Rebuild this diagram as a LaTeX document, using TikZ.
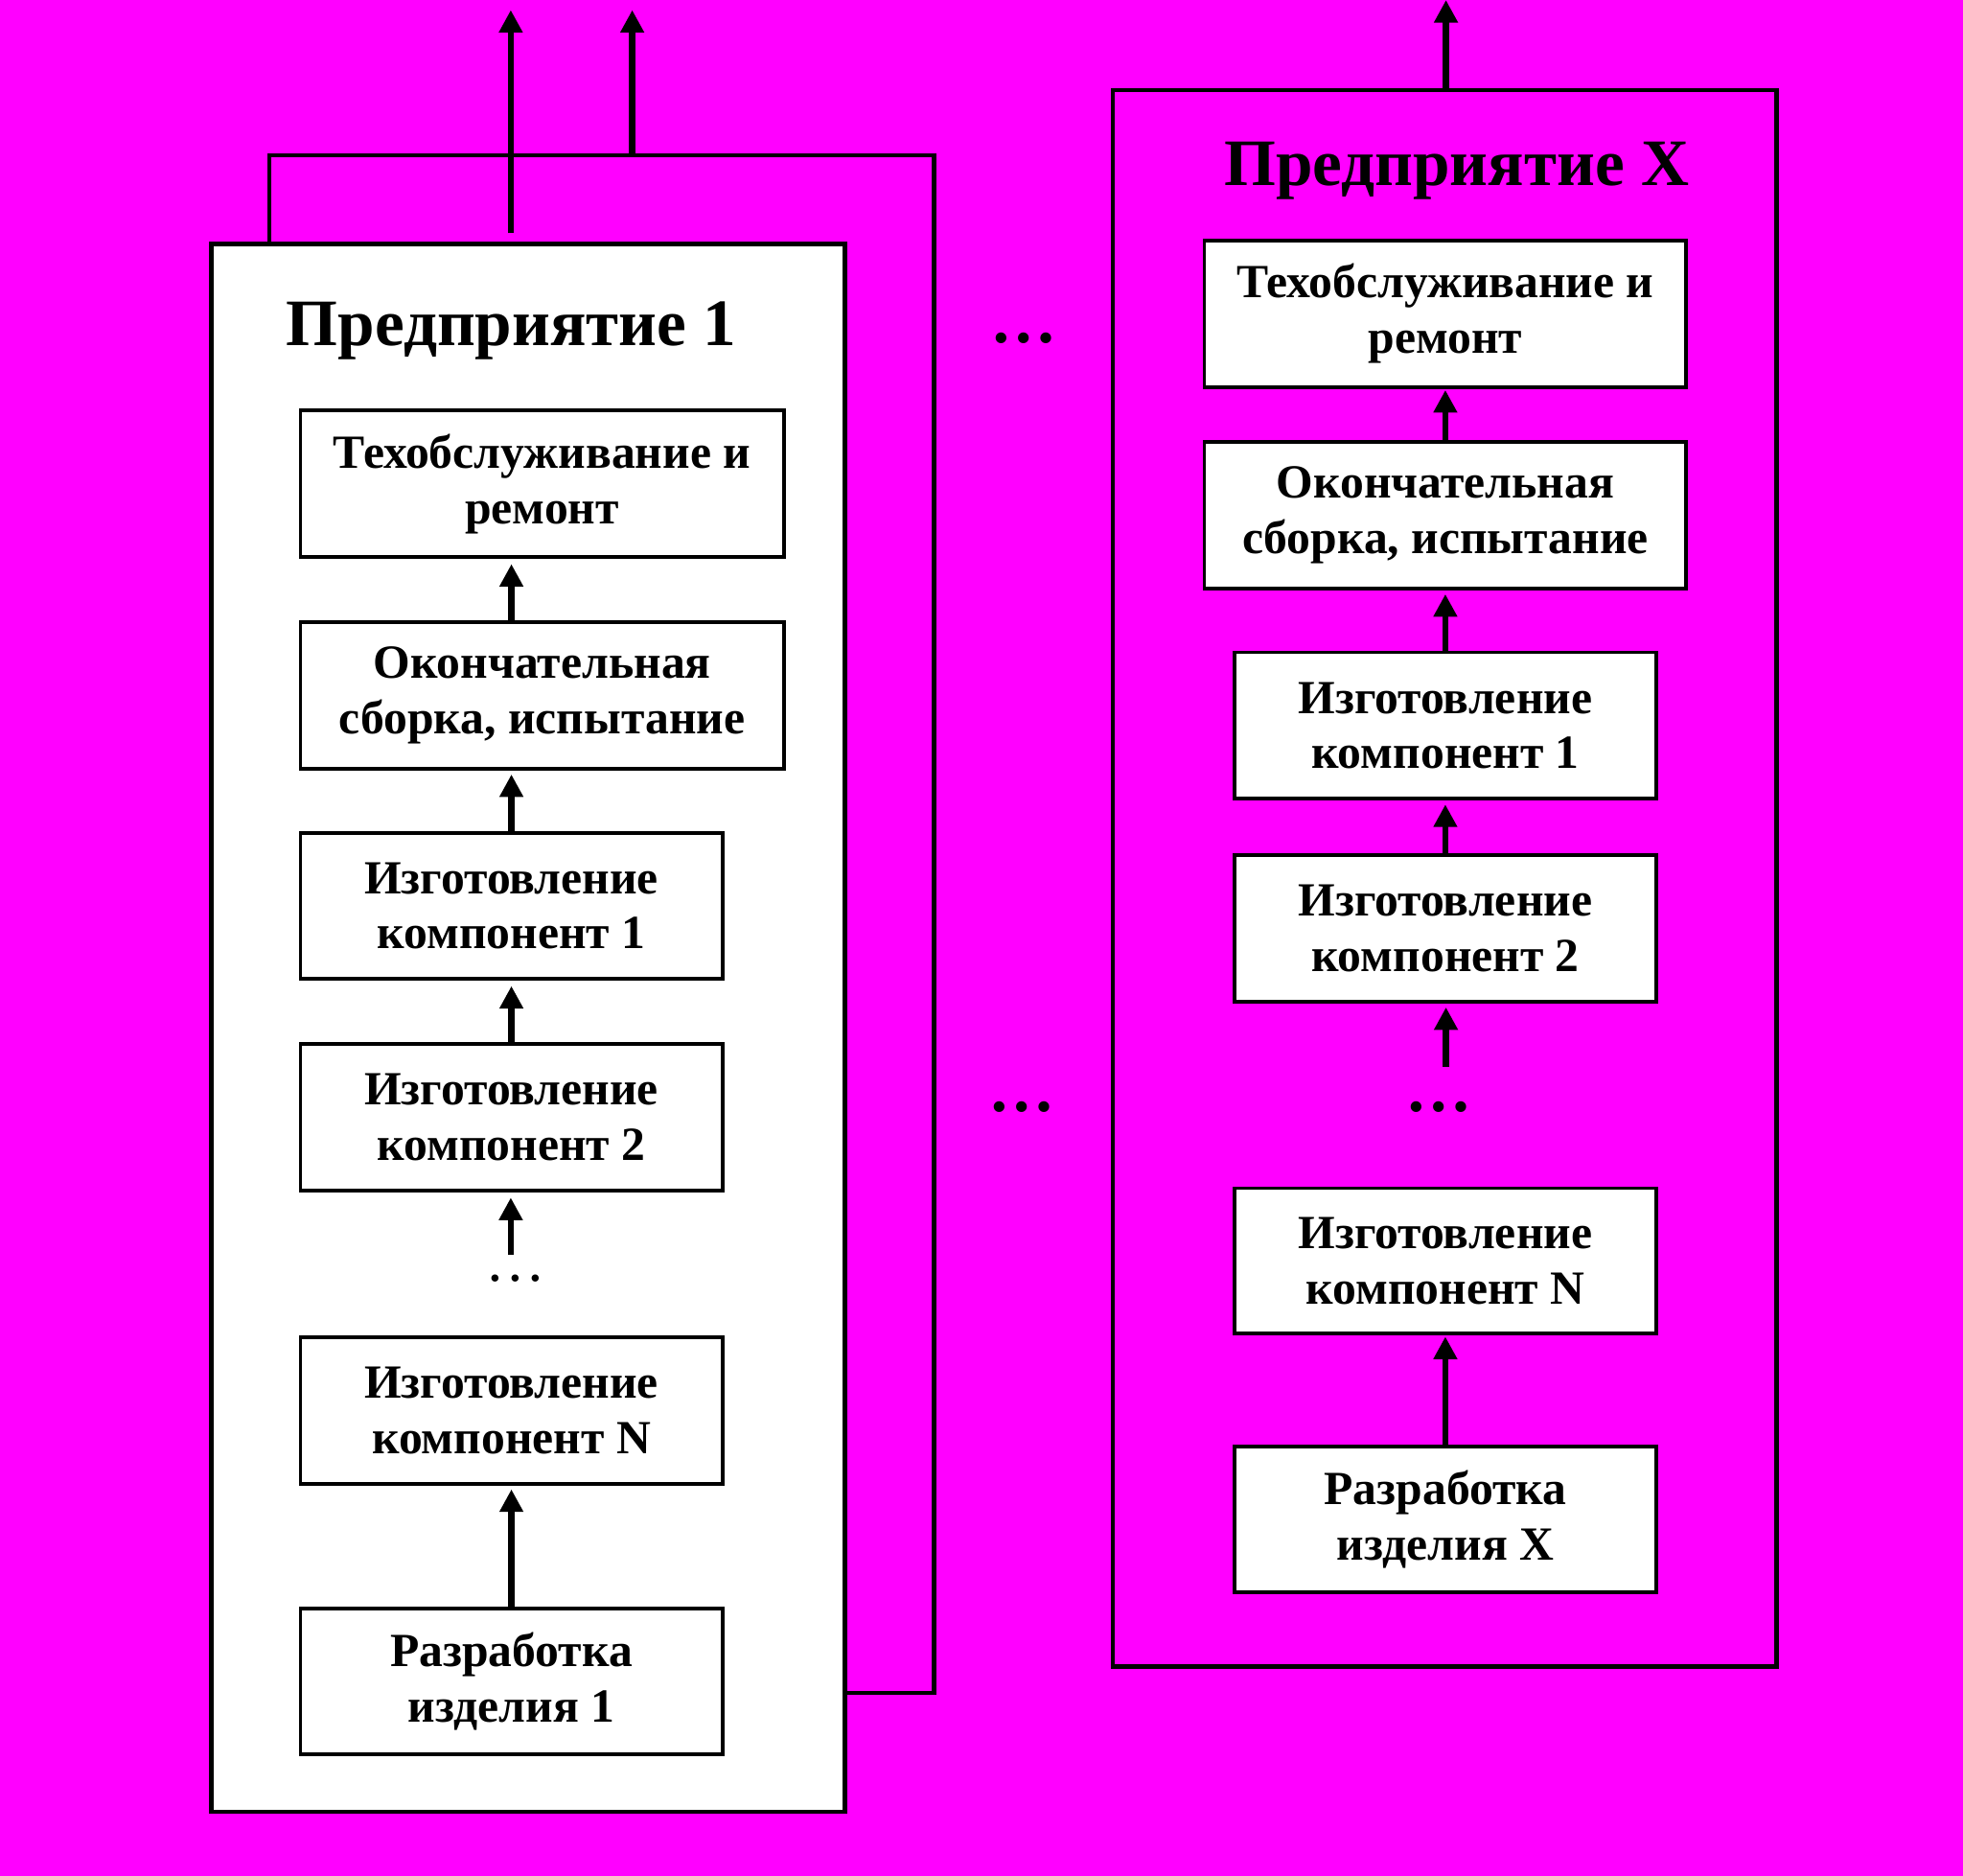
\documentclass[tikz,border=0pt]{standalone}
\usepackage{fontspec}
\setmainfont{Liberation Serif}
\usetikzlibrary{arrows.meta}
\definecolor{bg}{RGB}{255,0,255}
\begin{document}
\begin{tikzpicture}[x=1pt,y=-1pt,
  frame/.style={draw, line width=3.5pt, inner sep=0pt},
  stepbox/.style={draw, fill=white, line width=3pt, align=center, inner sep=0pt,
    font=\bfseries\fontsize{38}{44}\selectfont},
  wide/.style={minimum width=386pt, minimum height=117pt},
  narrow/.style={minimum width=337pt, minimum height=117pt},
  ttl/.style={font=\bfseries\fontsize{53}{60}\selectfont, inner sep=0pt, anchor=base},
  bigdots/.style={font=\bfseries\fontsize{53}{60}\selectfont, inner sep=0pt},
  smalldots/.style={font=\fontsize{48}{56}\selectfont, inner sep=0pt},
  arr/.style={line width=5pt, -{Triangle[width=18pt,length=18pt]}},
  ]
\fill[bg] (0,0) rectangle (1568,1498);
\useasboundingbox (0,0) rectangle (1568,1498);

% enterprise 1 (back copy and front box)
\node[frame, minimum width=531pt, minimum height=1228pt] (back1) at (480.5,738) {};
\node[frame, fill=white, minimum width=506pt, minimum height=1252pt] (ent1) at (422,821) {};
\node[ttl] (t1) at (408.5,276) {Предприятие 1};

\node[stepbox, wide]   (l1) at (433,386.5)   {Техобслуживание и\\ремонт};
\node[stepbox, wide]   (l2) at (433,555.5)   {Окончательная\\сборка, испытание};
\node[stepbox, narrow] (l3) at (408.5,723.5) {Изготовление\\компонент 1};
\node[stepbox, narrow] (l4) at (408.5,892.5) {Изготовление\\компонент 2};
\node[smalldots]       (ld) at (412,1021)    {…};
\node[stepbox, narrow] (l6) at (408.5,1126.5) {Изготовление\\компонент N};
\node[stepbox, narrow, minimum height=116pt] (l7) at (408.5,1343) {Разработка\\изделия 1};

\coordinate (o1) at (408,8);
\coordinate (o2) at (505,8);
\coordinate (ls) at (408,1002);

\draw[arr] ([yshift=7pt]ent1.north -| o1) -- (o1);
\draw[arr] (back1.north -| o2) -- (o2);
\draw[arr, shorten >=4pt] (l2.north -| l3) -- (l1.south -| l3);
\draw[arr, shorten >=3pt] (l3.north) -- (l2.south -| l3);
\draw[arr, shorten >=4pt] (l4.north) -- (l3.south);
\draw[arr, shorten >=4pt] (ls) -- (l4.south -| ls);
\draw[arr, shorten >=3pt] (l7.north) -- (l6.south);

% middle dots
\node[bigdots] (m1) at (818,270) {…};
\node[bigdots] (m2) at (816,884) {…};

% enterprise X
\node[frame, minimum width=530pt, minimum height=1259pt] (entX) at (1154,701.5) {};
\node[ttl] (tX) at (1163.5,148) {Предприятие X};

\node[stepbox, minimum width=385pt, minimum height=117pt] (r1) at (1154.5,250.5) {Техобслуживание и\\ремонт};
\node[stepbox, minimum width=385pt, minimum height=117pt] (r2) at (1154.5,411.5) {Окончательная\\сборка, испытание};
\node[stepbox, narrow] (r3) at (1154.5,579.5) {Изготовление\\компонент 1};
\node[stepbox, narrow] (r4) at (1154.5,741.5) {Изготовление\\компонент 2};
\node[bigdots]         (rd) at (1149,884)    {…};
\node[stepbox, narrow, minimum height=116pt] (r6) at (1154.5,1007) {Изготовление\\компонент N};
\node[stepbox, narrow] (r7) at (1154.5,1213.5) {Разработка\\изделия X};

\coordinate (oX) at (1155,0);
\coordinate (rs) at (1155,852);

\draw[arr] (entX.north -| oX) -- (oX);
\draw[arr, shorten >=1pt] (r2.north) -- (r1.south);
\draw[arr, shorten >=3pt] (r3.north) -- (r2.south);
\draw[arr, shorten >=3pt] (r4.north) -- (r3.south);
\draw[arr, shorten >=3pt] (rs) -- (r4.south -| rs);
\draw[arr, shorten >=1pt] (r7.north) -- (r6.south);
\end{tikzpicture}
\end{document}
